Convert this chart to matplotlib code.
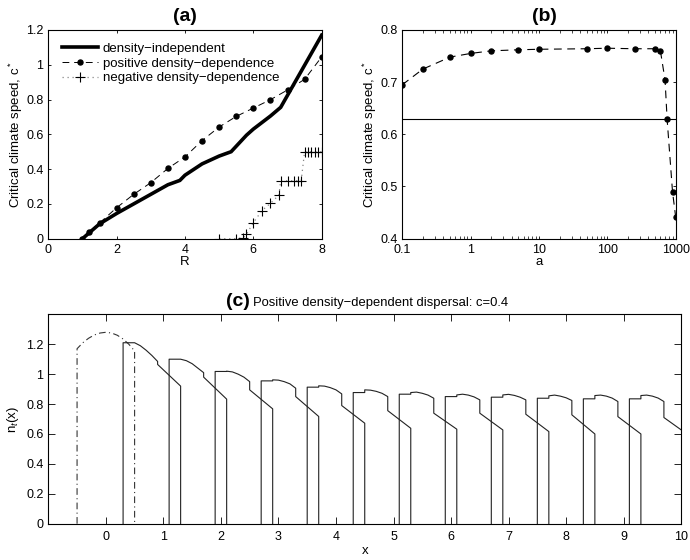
import matplotlib
matplotlib.use('Agg')
import matplotlib.pyplot as plt
from matplotlib.ticker import LogLocator, NullFormatter

plt.rcParams['font.family'] = ['Liberation Sans', 'DejaVu Sans']
plt.rcParams['mathtext.fontset'] = 'custom'
plt.rcParams['mathtext.rm'] = 'Liberation Sans'
plt.rcParams['mathtext.it'] = 'Liberation Sans:italic'

# ---------------- Panel (a) data ----------------
R_indep = [1, 1.5, 2, 2.5, 3, 3.5, 3.85, 4, 4.5, 5, 5.35, 5.8, 6, 6.5, 6.8, 8]
c_indep = [0, 0.085, 0.145, 0.2, 0.255, 0.31, 0.335, 0.365, 0.43, 0.475, 0.5, 0.595, 0.63, 0.705, 0.755, 1.17]
R_pos = [1, 1.2, 1.5, 2, 2.5, 3, 3.5, 4, 4.5, 5, 5.5, 6, 6.5, 7, 7.5, 8]
c_pos = [0, 0.04, 0.09, 0.178, 0.255, 0.322, 0.404, 0.47, 0.564, 0.642, 0.703, 0.751, 0.799, 0.855, 0.916, 1.045]
R_neg = [5, 5.5, 5.7, 5.8, 6, 6.25, 6.5, 6.75, 6.8, 7, 7.2, 7.3, 7.4, 7.5, 7.6, 7.7, 7.8, 7.9, 8]
c_neg = [0, 0, 0.005, 0.025, 0.092, 0.161, 0.203, 0.251, 0.333, 0.333, 0.333, 0.333, 0.333,
         0.5, 0.5, 0.5, 0.5, 0.5, 0.5]
legend_labels = ['density\u2212independent', 'positive density\u2212dependence',
                 'negative density\u2212dependence']
a_xticks = [0, 2, 4, 6, 8]
a_xticklabels = ['0', '2', '4', '6', '8']
a_yticks = [0, 0.2, 0.4, 0.6, 0.8, 1.0, 1.2]
a_yticklabels = ['0', '0.2', '0.4', '0.6', '0.8', '1', '1.2']

# ---------------- Panel (b) data ----------------
a_vals = [0.1, 0.2, 0.5, 1, 2, 5, 10, 50, 100, 250, 500, 600, 700, 750, 900, 1000]
c_a = [0.695, 0.725, 0.748, 0.755, 0.760, 0.762, 0.763, 0.764, 0.765, 0.764, 0.764,
       0.759, 0.704, 0.629, 0.49, 0.442]
c_ref = 0.63
b_xticks = [0.1, 1, 10, 100, 1000]
b_xticklabels = ['0.1', '1', '10', '100', '1000']
b_yticks = [0.4, 0.5, 0.6, 0.7, 0.8]
b_yticklabels = ['0.4', '0.5', '0.6', '0.7', '0.8']

# ---------------- Panel (c) data ----------------
init_x = [-0.5, -0.5, -0.4, -0.3, -0.2, -0.1, 0, 0.1, 0.2, 0.3, 0.4, 0.5, 0.5]
init_y = [0, 1.17, 1.21, 1.24, 1.262, 1.275, 1.28, 1.275, 1.26, 1.235, 1.2, 1.155, 0]
gen_start = [0.3, 1.1, 1.9, 2.7, 3.5, 4.3, 5.1, 5.9, 6.7, 7.5, 8.3, 9.1]
gen_dx = [0, 0, 0.2, 0.2, 0.3, 0.4, 0.5, 0.6, 0.6, 1.0, 1.0]
gen_heights = [
    [1.21, 1.21, 1.21, 1.19, 1.16, 1.125, 1.085, 1.065, 0.92],
    [1.10, 1.10, 1.10, 1.09, 1.07, 1.04, 1.01, 0.98, 0.833],
    [1.018, 1.018, 1.02, 1.015, 1.0, 0.98, 0.95, 0.895, 0.768],
    [0.955, 0.955, 0.962, 0.96, 0.95, 0.935, 0.906, 0.85, 0.717],
    [0.913, 0.913, 0.922, 0.92, 0.91, 0.895, 0.868, 0.79, 0.672],
    [0.877, 0.877, 0.895, 0.893, 0.885, 0.872, 0.85, 0.756, 0.638],
    [0.866, 0.866, 0.877, 0.88, 0.872, 0.86, 0.839, 0.739, 0.632],
    [0.85, 0.85, 0.861, 0.866, 0.86, 0.848, 0.828, 0.739, 0.627],
    [0.846, 0.846, 0.861, 0.865, 0.858, 0.846, 0.828, 0.732, 0.616],
    [0.839, 0.839, 0.855, 0.86, 0.853, 0.842, 0.824, 0.728, 0.60],
    [0.835, 0.835, 0.857, 0.86, 0.853, 0.84, 0.817, 0.716, 0.60],
    [0.835, 0.835, 0.857, 0.86, 0.853, 0.84, 0.817, 0.71, 0.60],
]
c_xticks = list(range(0, 11))
c_yticks = [0, 0.2, 0.4, 0.6, 0.8, 1.0, 1.2]
c_yticklabels = ['0', '0.2', '0.4', '0.6', '0.8', '1', '1.2']

FS = 9
LFS = 9.5
TFS = 14

fig = plt.figure(figsize=(6.9, 5.6), dpi=100)
axA = fig.add_axes([0.070, 0.5738, 0.3962, 0.3727])
axB = fig.add_axes([0.5830, 0.5738, 0.3962, 0.3727])
axC = fig.add_axes([0.070, 0.0648, 0.9172, 0.3739])


def matlab_style(ax, length, xpad=3.5):
    ax.tick_params(which='major', direction='in', top=True, right=True,
                   length=length, width=0.6, labelsize=FS, pad=3.5)
    ax.tick_params(axis='x', which='major', pad=xpad)
    ax.tick_params(which='minor', direction='in', top=True, right=True,
                   length=length * 0.75, width=0.5)
    for s in ax.spines.values():
        s.set_linewidth(0.8)


# ---- (a)
axA.plot(R_indep, c_indep, color='black', lw=2.6, solid_joinstyle='miter',
         label=legend_labels[0])
axA.plot(R_pos, c_pos, color='black', lw=0.7, dashes=(7, 5), marker='o', ms=3.6,
         label=legend_labels[1])
axA.plot(R_neg, c_neg, color='#888888', lw=0.9, ls=(0, (1, 3)), marker='+', ms=7,
         mec='black', mew=0.8, label=legend_labels[2])
axA.set_xlim(0, 8)
axA.set_ylim(0, 1.2)
axA.set_xticks(a_xticks, a_xticklabels)
axA.set_yticks(a_yticks, a_yticklabels)
matlab_style(axA, 2.5)
axA.set_xlabel('R', fontsize=LFS, labelpad=0)
axA.set_ylabel('Critical climate speed, c$^*$', fontsize=LFS, labelpad=0.5)
axA.set_title('(a)', fontsize=TFS, fontweight='bold', pad=6.5)
axA.legend(loc='upper left', bbox_to_anchor=(0.05, 0.94), frameon=False,
           fontsize=LFS, handlelength=2.75, handletextpad=0.35, labelspacing=0.2,
           borderpad=0, borderaxespad=0, numpoints=1)

# ---- (b)
axB.plot(a_vals, c_a, color='black', lw=0.8, dashes=(7, 5), marker='o', ms=3.6)
axB.axhline(c_ref, color='black', lw=0.8)
axB.set_xscale('log')
axB.set_xlim(0.1, 1000)
axB.set_ylim(0.4, 0.8)
axB.set_xticks(b_xticks, b_xticklabels)
axB.xaxis.set_minor_locator(LogLocator(base=10, subs=range(2, 10)))
axB.xaxis.set_minor_formatter(NullFormatter())
axB.set_yticks(b_yticks, b_yticklabels)
matlab_style(axB, 2.5)
axB.set_xlabel('a', fontsize=LFS, labelpad=0)
axB.set_ylabel('Critical climate speed, c$^*$', fontsize=LFS, labelpad=1)
axB.set_title('(b)', fontsize=TFS, fontweight='bold', pad=6.5, x=0.52)

# ---- (c)
axC.plot(init_x, init_y, color='#333333', lw=0.8, dashes=(6, 3, 1, 3))
for s, h in zip(gen_start, gen_heights):
    xs = [s + d for d in gen_dx]
    ys = [0] + h + [0]
    axC.plot(xs, ys, color='#222222', lw=0.8)
axC.set_xlim(-1, 10)
axC.set_ylim(0, 1.4)
axC.set_xticks(c_xticks)
axC.set_yticks(c_yticks, c_yticklabels)
matlab_style(axC, 4.7, xpad=5)
axC.set_xlabel('x', fontsize=LFS, labelpad=2)
axC.set_ylabel('n$_t$(x)', fontsize=LFS, labelpad=4)
fig.text(250 / 690, 1 - 306 / 560, '(c)', fontsize=TFS, fontweight='bold',
         ha='right', va='baseline')
fig.text(253 / 690, 1 - 306 / 560, 'Positive density\u2212dependent dispersal: c=0.4',
         fontsize=9.4, ha='left', va='baseline')

fig.savefig('out.png', dpi=100)
